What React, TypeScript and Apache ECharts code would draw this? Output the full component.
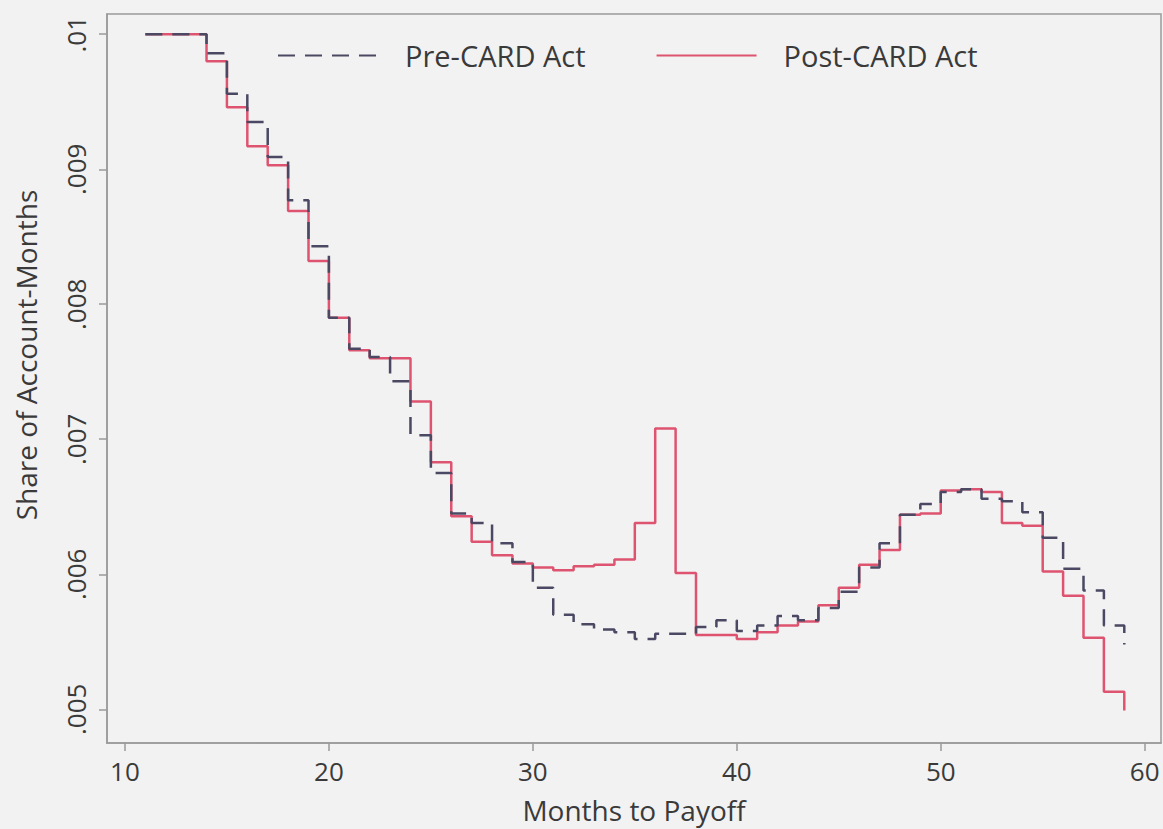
import React, { useEffect, useRef } from "react";
import * as echarts from "echarts";

const months = [11,12,13,14,15,16,17,18,19,20,21,22,23,24,25,26,27,28,29,30,31,32,33,34,35,36,37,38,39,40,41,42,43,44,45,46,47,48,49,50,51,52,53,54,55,56,57,58,59];

const preCard = [0.0100,0.0100,0.0100,0.00986,0.00956,0.00935,0.00909,0.00877,0.00843,0.00790,0.00767,0.00761,0.00743,0.00703,0.00675,0.00645,0.00638,0.00623,0.00609,0.00590,0.00570,0.00563,0.00559,0.00557,0.00552,0.00556,0.00556,0.00561,0.00566,0.00558,0.00562,0.00569,0.00566,0.00575,0.00587,0.00605,0.00623,0.00644,0.00652,0.00661,0.00663,0.00656,0.00654,0.00646,0.00627,0.00604,0.00588,0.00562,0.00548];

const postCard = [0.0100,0.0100,0.0100,0.00980,0.00946,0.00917,0.00903,0.00869,0.00832,0.00790,0.00766,0.00760,0.00760,0.00728,0.00683,0.00643,0.00624,0.00614,0.00608,0.00605,0.00603,0.00606,0.00607,0.00611,0.00638,0.00708,0.00601,0.00555,0.00555,0.00552,0.00557,0.00562,0.00565,0.00577,0.00590,0.00607,0.00618,0.00644,0.00645,0.00662,0.00663,0.00661,0.00638,0.00636,0.00602,0.00584,0.00553,0.00513,0.00499];

const xTicks = [10, 20, 30, 40, 50, 60];
const yTicks = [0.005, 0.006, 0.007, 0.008, 0.009, 0.01];

const FONT = "Open Sans";
const TEXT = "#3a3a3a";
const AXIS = "#9a9a9a";

export default function App() {
  const ref = useRef<HTMLDivElement>(null);
  useEffect(() => {
    if (!ref.current) return;
    const chart = echarts.init(ref.current, null, { renderer: "svg" });
    const fmtY = (v: number) =>
      v.toFixed(3).replace(/0+$/, "").replace(/^0/, "");
    chart.setOption({
      animation: false,
      backgroundColor: "#f2f2f2",
      textStyle: { fontFamily: FONT },
      grid: {
        left: 107,
        right: 2,
        top: 14,
        bottom: 84,
        show: true,
        borderColor: AXIS,
        borderWidth: 1.5,
        backgroundColor: "transparent",
      },
      legend: {
        top: 36,
        left: 272,
        itemWidth: 100,
        itemHeight: 14,
        itemGap: 70,
        itemStyle: { opacity: 0 },
        textStyle: {
          fontFamily: FONT,
          fontSize: 29,
          color: TEXT,
          padding: [0, 0, 0, 22],
        },
        data: ["Pre-CARD Act", "Post-CARD Act"],
      },
      graphic: [
        {
          type: "text",
          x: 26,
          y: 355,
          rotation: Math.PI / 2,
          style: {
            text: "Share of Account-Months",
            fontFamily: FONT,
            fontSize: 28,
            fill: TEXT,
            align: "center",
            verticalAlign: "middle",
          },
        },
      ],
      xAxis: {
        type: "value",
        min: 9.12,
        max: 60.8,
        name: "Months to Payoff",
        nameLocation: "middle",
        nameGap: 53,
        nameTextStyle: { fontFamily: FONT, fontSize: 28, color: TEXT },
        axisLine: { show: true, lineStyle: { color: AXIS, width: 1.5 } },
        axisTick: {
          show: true,
          length: 8,
          customValues: xTicks,
          lineStyle: { color: AXIS, width: 1.5 },
        },
        axisLabel: {
          customValues: xTicks,
          fontFamily: FONT,
          fontSize: 26,
          color: TEXT,
          margin: 15,
        },
        splitLine: { show: false },
      },
      yAxis: {
        type: "value",
        min: 0.00475,
        max: 0.01015,
        axisLine: { show: true, lineStyle: { color: AXIS, width: 1.5 } },
        axisTick: {
          show: true,
          length: 8,
          customValues: yTicks,
          lineStyle: { color: AXIS, width: 1.5 },
        },
        axisLabel: {
          customValues: yTicks,
          rotate: 90,
          fontFamily: FONT,
          fontSize: 26,
          color: TEXT,
          margin: 18,
          formatter: fmtY,
        },
        splitLine: { show: false },
      },
      series: [
        {
          name: "Pre-CARD Act",
          type: "line",
          step: "end",
          symbol: "none",
          z: 3,
          data: months.map((m, i) => [m, preCard[i]]),
          lineStyle: { color: "#4a4862", width: 2.5, type: [17, 10] },
          itemStyle: { color: "#4a4862" },
        },
        {
          name: "Post-CARD Act",
          type: "line",
          step: "end",
          symbol: "none",
          z: 2,
          data: months.map((m, i) => [m, postCard[i]]),
          lineStyle: { color: "#de5470", width: 2.5 },
          itemStyle: { color: "#de5470" },
        },
      ],
    });
    return () => chart.dispose();
  }, []);
  return (
    <div
      ref={ref}
      style={{ position: "fixed", left: 0, top: 0, width: 1163, height: 829 }}
    />
  );
}
